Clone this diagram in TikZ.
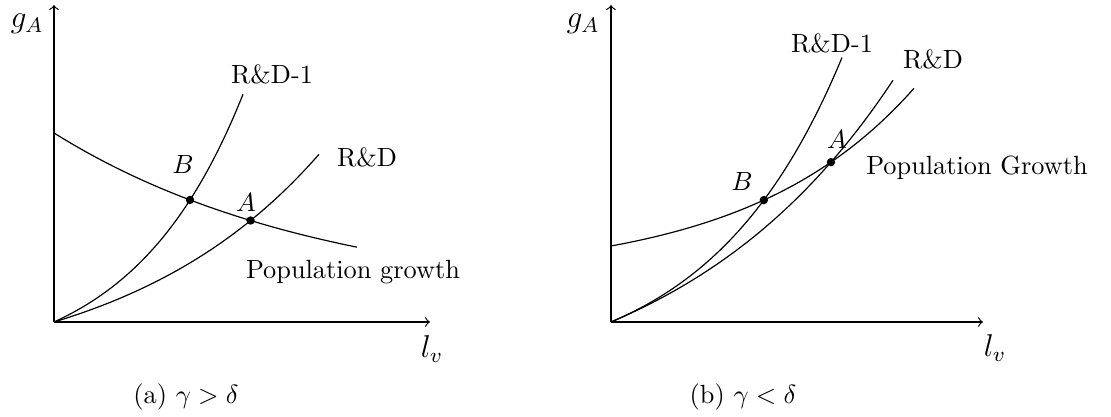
\documentclass[tikz,border=0pt]{standalone}
\usepackage{amsmath,amssymb}
\usepackage{tikz}
\usetikzlibrary{intersections}
\tikzset{
  axis/.style={->,line width=0.45pt},
  curve/.style={line width=0.45pt},
  dot/.style={circle,fill=black,inner sep=0pt,minimum size=3.2pt},
  lbl/.style={inner sep=1pt},
  axlbl/.style={inner sep=1pt,font=\large}
}

\begin{document}
\begin{tikzpicture}[x=0.38pt,y=0.38pt]
\useasboundingbox (0,0) rectangle (1111,417);
% (a) gamma > delta
\begin{scope}[shift={(54,95)}]
\coordinate (OL) at (0,0);
\coordinate (yL) at (0,317);
\coordinate (xL) at (376,0);
\draw[axis] (OL) -- (yL);
\draw[axis] (OL) -- (xL);
\node[axlbl] (gAL) at (-27,298) {$g_A$};
\node[axlbl] (lvL) at (378,-27) {$l_v$};
\draw[curve,name path=rdoneL] plot[domain=0:189,samples=60] ({\x},{50.8*(exp(0.009*\x)-1)});
\draw[curve,name path=rdL] plot[domain=0:265,samples=60] ({\x},{60.6*(exp(0.005*\x)-1)});
\draw[curve,name path=popL] plot[domain=0:303,samples=60] ({\x},{19.4+169.6*exp(-0.0037*\x)});
\path[name intersections={of=rdoneL and popL,by={BL}}];
\path[name intersections={of=rdL and popL,by={AL}}];
\node[dot] (dotBL) at (BL) {};
\node[dot] (dotAL) at (AL) {};
\node[lbl] (labBL) at (129,157) {$B$};
\node[lbl] (labAL) at (192,119) {$A$};
\node[lbl] (rdoneLabL) at (218,248) {R\&D-1};
\node[lbl] (rdLabL) at (313,165) {R\&D};
\node[lbl] (popLabL) at (299,50) {Population growth};
\node[lbl] (capL) at (132,-75) {(a) $\gamma > \delta$};
\end{scope}
% (b) gamma < delta
\begin{scope}[shift={(611,95)}]
\coordinate (OR) at (0,0);
\coordinate (yR) at (0,317);
\coordinate (xR) at (372,0);
\draw[axis] (OR) -- (yR);
\draw[axis] (OR) -- (xR);
\node[axlbl] (gAR) at (-28,298) {$g_A$};
\node[axlbl] (lvR) at (384,-26) {$l_v$};
\draw[curve,name path=rdoneR] plot[domain=0:231,samples=60] ({\x},{56.7*(exp(0.0075*\x)-1)});
\draw[curve,name path=rdR] plot[domain=0:282,samples=60] ({\x},{94.5*(exp(0.0045*\x)-1)});
\draw[curve,name path=popR] plot[domain=0:303,samples=60] ({\x},{45.4+30.6*exp(0.006*\x)});
\path[name intersections={of=rdoneR and popR,by={BR}}];
\path[name intersections={of=rdR and popR,by={AR}}];
\node[dot] (dotBR) at (BR) {};
\node[dot] (dotAR) at (AR) {};
\node[lbl] (labBR) at (131,140) {$B$};
\node[lbl] (labAR) at (226,182) {$A$};
\node[lbl] (rdoneLabR) at (221,279) {R\&D-1};
\node[lbl] (rdLabR) at (322,263) {R\&D};
\node[lbl] (popLabR) at (366,154) {Population Growth};
\node[lbl] (capR) at (132,-75) {(b) $\gamma < \delta$};
\end{scope}
\end{tikzpicture}
\end{document}
